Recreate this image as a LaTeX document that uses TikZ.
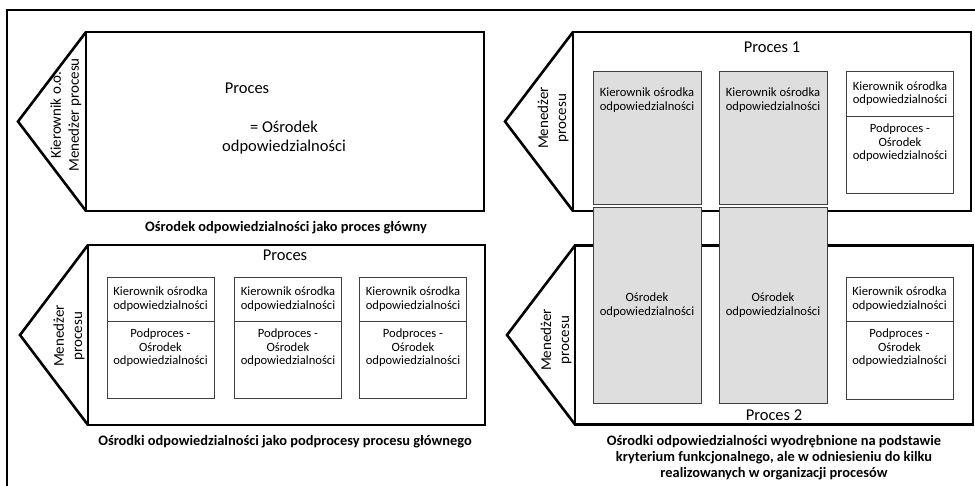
\documentclass[tikz,border=0pt]{standalone}
\usepackage{fontspec}
\setmainfont{Carlito}
\begin{document}
\begin{tikzpicture}[x=1pt,y=-1pt,
  mainbox/.style={draw=black,line width=2.6pt,inner sep=0pt,outer sep=0pt,fill=white},
  mainline/.style={draw=black,line width=2.6pt,line join=miter},
  frameline/.style={draw=black,line width=2.4pt},
  whitebox/.style={draw=black!75,line width=0.9pt,inner sep=0pt,outer sep=0pt,fill=white,minimum width=107pt},
  greybox/.style={draw=black!75,line width=0.9pt,inner sep=0pt,outer sep=0pt,fill=black!13,minimum width=108pt},
  bigtxt/.style={font=\fontsize{16.5}{19}\selectfont,align=center,inner sep=0pt},
  rottxt/.style={font=\fontsize{15}{18}\selectfont,align=center,inner sep=0pt,rotate=90},
  smalltxt/.style={font=\fontsize{12.6}{13.5}\selectfont,align=center,inner sep=0pt},
  captxt/.style={font=\fontsize{14.4}{16}\selectfont\bfseries,align=center,inner sep=0pt}]
\useasboundingbox (0,0) rectangle (975,486);
\clip (0,0) rectangle (975,486);
% outer frame
\coordinate (fa) at (7,500);
\coordinate (fb) at (7,10);
\coordinate (fc) at (990,10);
\draw[frameline] (fa) -- (fb) -- (fc);

% ---------- top left ----------
\node[mainbox,minimum width=398pt,minimum height=179pt] (p1) at (285,121.5) {};
\coordinate (t1) at (18,121.5);
\draw[mainline] (p1.north west) -- (t1) -- (p1.south west);
\node[rottxt] (m1) at (66,115) {Kierownik o.o.\\Menedżer procesu};
\node[bigtxt] (l1a) at (247,88) {Proces};
\node[bigtxt] (l1b) at (284,137.5) {= Ośrodek\\odpowiedzialności};
\node[captxt] (c1) at (286,228) {Ośrodek odpowiedzialności jako proces główny};

% ---------- bottom left ----------
\node[mainbox,minimum width=397pt,minimum height=180pt] (p3) at (286.5,335) {};
\coordinate (t3) at (20,335);
\draw[mainline] (p3.north west) -- (t3) -- (p3.south west);
\node[rottxt] (m3) at (69,336) {Menedżer\\procesu};
\node[bigtxt] (l3) at (285,255) {Proces};
\foreach \cx/\n in {160.5/a,288/b,413/c}{
  \node[whitebox,minimum height=44pt] (h3\n) at (\cx,299) {};
  \node[whitebox,minimum height=77pt] (s3\n) at (\cx,359.5) {};
  \node[smalltxt] (h3\n t) at (\cx,299) {Kierownik ośrodka\\odpowiedzialności};
  \node[smalltxt] (s3\n t) at (\cx,348) {Podproces -\\Ośrodek\\odpowiedzialności};
}
\node[captxt] (c3) at (285,442) {Ośrodki odpowiedzialności jako podprocesy procesu głównego};

% ---------- top right ----------
\node[mainbox,minimum width=398pt,minimum height=179pt] (p2) at (772,121.5) {};
\coordinate (t2) at (505,121.5);
\draw[mainline] (p2.north west) -- (t2) -- (p2.south west);
\node[rottxt] (m2) at (553,118) {Menedżer\\procesu};
\node[bigtxt] (l2) at (772,47) {Proces 1};
\node[whitebox,minimum height=45pt] (h2) at (900,93.5) {};
\node[whitebox,minimum height=77pt] (s2) at (900,154.5) {};
\node[smalltxt] (h2t) at (900,93.5) {Kierownik ośrodka\\odpowiedzialności};
\node[smalltxt] (s2t) at (900,143) {Podproces -\\Ośrodek\\odpowiedzialności};

% ---------- bottom right ----------
\node[mainbox,minimum width=398pt,minimum height=179pt] (p4) at (774,335) {};
\coordinate (t4) at (507,335);
\draw[mainline] (p4.north west) -- (t4) -- (p4.south west);
\node[rottxt] (m4) at (556,340) {Menedżer\\procesu};
\node[bigtxt] (l4) at (774,415) {Proces 2};
\node[whitebox,minimum height=44pt] (h4) at (899.5,299) {};
\node[whitebox,minimum height=78pt] (s4) at (899.5,360) {};
\node[smalltxt] (h4t) at (899.5,299) {Kierownik ośrodka\\odpowiedzialności};
\node[smalltxt] (s4t) at (899.5,348) {Podproces -\\Ośrodek\\odpowiedzialności};
\node[captxt] (c4) at (774,458) {Ośrodki odpowiedzialności wyodrębnione na podstawie\\kryterium funkcjonalnego, ale w odniesieniu do kilku\\realizowanych w organizacji procesów};

% ---------- grey columns spanning both processes ----------
\foreach \cx/\n in {647/a,773/b}{
  \node[greybox,minimum height=133pt] (gu\n) at (\cx,137.5) {};
  \node[greybox,minimum height=196pt] (gl\n) at (\cx,305) {};
  \node[smalltxt] (gu\n t) at (\cx,100) {Kierownik ośrodka\\odpowiedzialności};
  \node[smalltxt] (gl\n t) at (\cx,305) {Ośrodek\\odpowiedzialności};
}
\end{tikzpicture}
\end{document}
